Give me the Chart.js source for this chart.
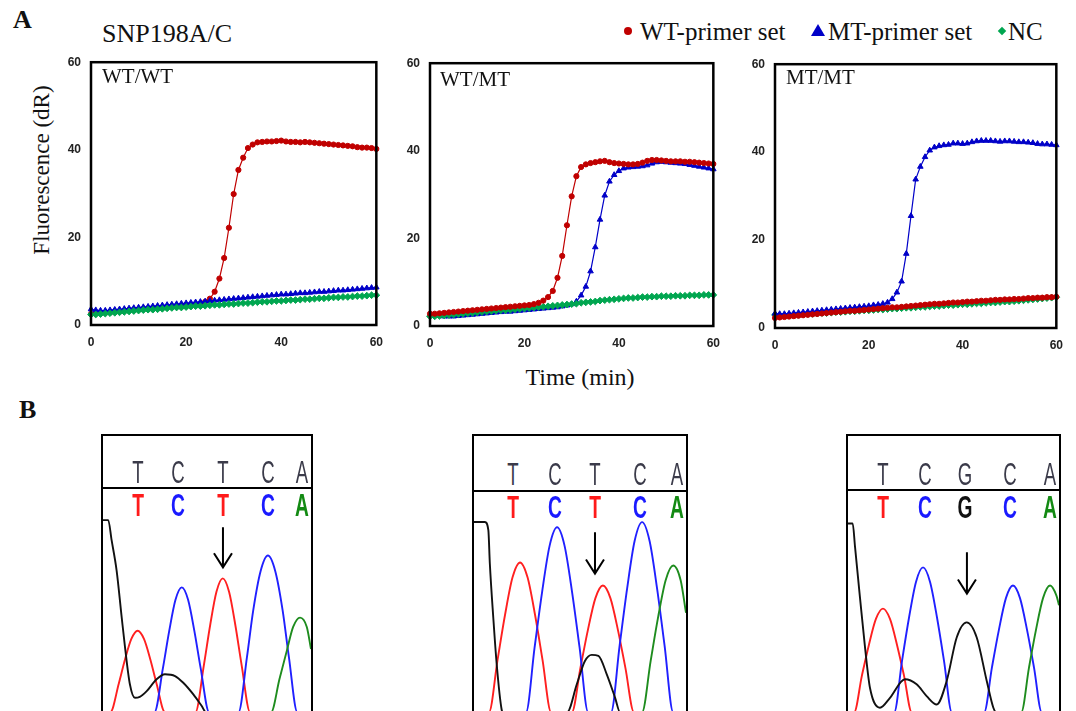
<!DOCTYPE html>
<html>
<head>
<meta charset="utf-8">
<script src="https://cdn.jsdelivr.net/npm/chart.js@4.4.1/dist/chart.umd.min.js"></script>
<style>
body { margin:0; background:#fff; width:1076px; height:711px; overflow:hidden; position:relative; font-family:'Liberation Serif','Times New Roman',serif; color:#111; }
.abs { position:absolute; line-height:1; white-space:nowrap; }
.c { transform:translate(-50%,-50%); }
.l { transform:translate(0,-50%); }
canvas { position:absolute; }
.box { position:absolute; border:2px solid #000; box-sizing:border-box; height:300px; }
.sep { position:absolute; height:2px; background:#000; }
.up { font-family:'Liberation Sans',Arial,sans-serif; font-size:31px; color:#3b3b4a; transform:translate(-50%,-50%) scaleX(.6); }
.lo { font-family:'Liberation Sans',Arial,sans-serif; font-weight:bold; font-size:31px; transform:translate(-50%,-50%) scaleX(.62); }
</style>
</head>
<body>

<div class="abs l" style="left:13px;top:20px;font-size:26px;font-weight:bold">A</div>
<div class="abs l" style="left:19px;top:410px;font-size:26px;font-weight:bold">B</div>
<div class="abs l" style="left:102px;top:34px;font-size:26px">SNP198A/C</div>

<!-- legend -->
<div class="abs" style="left:624px;top:27px;width:8px;height:8px;border-radius:50%;background:#c00000"></div>
<div class="abs l" style="left:640px;top:31px;font-size:25px">WT-primer set</div>
<div class="abs" style="left:811px;top:24px;width:0;height:0;border-left:7.5px solid transparent;border-right:7.5px solid transparent;border-bottom:12px solid #0000c8"></div>
<div class="abs l" style="left:828px;top:31px;font-size:25px">MT-primer set</div>
<div class="abs" style="left:999px;top:28px;width:6px;height:6px;background:#00a650;transform:rotate(45deg)"></div>
<div class="abs l" style="left:1008px;top:31px;font-size:25px">NC</div>

<div class="abs c" style="left:41px;top:170px;font-size:23px;transform:translate(-50%,-50%) rotate(-90deg)">Fluorescence (dR)</div>
<div class="abs c" style="left:580px;top:377px;font-size:24px">Time (min)</div>

<canvas id="a1" width="342" height="310" style="left:51px;top:45px"></canvas>
<canvas id="a2" width="340" height="310" style="left:390px;top:46px"></canvas>
<canvas id="a3" width="338" height="311" style="left:735px;top:47px"></canvas>

<div class="abs l" style="left:102px;top:76px;font-size:21px">WT/WT</div>
<div class="abs l" style="left:440px;top:79px;font-size:21px">WT/MT</div>
<div class="abs l" style="left:786px;top:77px;font-size:21px">MT/MT</div>

<div class="box" style="left:101px;top:434px;width:212px"></div>
<div class="sep" style="left:101px;top:487px;width:212px"></div>
<div class="box" style="left:472px;top:434px;width:216px"></div>
<div class="sep" style="left:472px;top:490px;width:216px"></div>
<div class="box" style="left:846px;top:434px;width:215px"></div>
<div class="sep" style="left:846px;top:489px;width:215px"></div>

<canvas id="b1" width="208" height="222" style="left:103px;top:489px"></canvas>
<canvas id="b2" width="212" height="219" style="left:474px;top:492px"></canvas>
<canvas id="b3" width="211" height="220" style="left:848px;top:491px"></canvas>

<script>
// --- PANEL A: real-time amplification, 1 reading per minute ---
const MINUTES = [0,1,2,3,4,5,6,7,8,9,10,11,12,13,14,15,16,17,18,19,20,21,22,23,24,25,26,27,28,29,30,
  31,32,33,34,35,36,37,38,39,40,41,42,43,44,45,46,47,48,49,50,51,52,53,54,55,56,57,58,59,60];
const TIME_TICKS = [0, 20, 40, 60];
const FLUO_TICKS = [0, 20, 40, 60];

// WT/WT sample
const WTWT_WT = [2.5,2.6,2.7,2.8,2.9,3.0,3.1,3.2,3.3,3.4,3.5,3.6,3.7,3.7,3.8,3.9,4.0,4.1,4.2,4.2,4.3,4.4,4.5,4.8,5.3,
  6.0,7.6,10.6,15.3,22.2,29.9,35.4,38.2,40.4,41.2,41.7,41.8,41.9,41.9,42.0,42.1,41.9,41.8,41.8,41.7,41.8,
  41.7,41.6,41.5,41.4,41.3,41.2,41.1,41.0,40.9,40.8,40.6,40.5,40.5,40.4,40.2];
const WTWT_MT = [3.6,3.4,3.3,3.3,3.4,3.5,3.6,3.7,3.8,3.9,4.0,4.1,4.2,4.3,4.4,4.5,4.6,4.7,4.8,4.9,5.0,5.1,5.2,5.3,5.4,
  5.5,5.6,5.7,5.8,5.9,6.0,6.1,6.2,6.3,6.4,6.5,6.6,6.7,6.8,6.9,7.0,7.0,7.1,7.2,7.3,7.3,7.4,7.5,7.6,7.6,
  7.7,7.8,7.9,7.9,8.0,8.1,8.2,8.3,8.4,8.5,8.6];
const WTWT_NC = [2.4,2.4,2.5,2.6,2.7,2.8,2.9,3.0,3.1,3.2,3.3,3.4,3.5,3.5,3.6,3.7,3.8,3.9,4.0,4.0,4.1,4.2,4.3,4.3,4.4,
  4.5,4.6,4.6,4.7,4.8,4.8,4.9,5.0,5.0,5.1,5.2,5.3,5.3,5.4,5.5,5.5,5.6,5.7,5.7,5.8,5.9,5.9,6.0,6.1,6.1,
  6.2,6.3,6.3,6.4,6.4,6.5,6.6,6.6,6.7,6.8,6.8];

// WT/MT sample
const WTMT_WT = [2.8,2.8,2.9,3.0,3.1,3.2,3.3,3.4,3.5,3.6,3.7,3.8,3.9,4.0,4.1,4.2,4.3,4.4,4.5,4.6,4.7,4.8,5.0,5.3,5.8,
  6.6,8.0,11.0,16.0,23.0,29.6,34.2,36.3,36.9,37.2,37.4,37.6,37.7,37.4,37.2,37.1,37.0,36.9,36.9,37.0,37.3,
  37.7,37.9,37.9,37.8,37.7,37.6,37.6,37.6,37.5,37.5,37.4,37.3,37.2,37.1,37.0];
const WTMT_MT = [2.6,2.4,2.3,2.2,2.2,2.2,2.3,2.4,2.5,2.6,2.7,2.8,2.9,3.0,3.1,3.2,3.3,3.3,3.4,3.5,3.6,3.7,3.8,3.9,4.0,
  4.1,4.2,4.3,4.5,4.7,5.0,5.6,7.0,9.0,12.5,18.0,24.3,29.8,33.0,34.5,35.4,36.0,36.2,36.3,36.4,36.5,
  36.7,37.1,37.4,37.5,37.4,37.3,37.2,37.1,37.0,36.8,36.6,36.4,36.2,36.0,35.8];
const WTMT_NC = [2.2,2.2,2.3,2.4,2.5,2.6,2.7,2.8,2.9,3.0,3.1,3.2,3.3,3.4,3.5,3.6,3.6,3.7,3.8,3.9,4.0,4.1,4.2,4.3,4.4,
  4.5,4.6,4.7,4.8,4.9,5.0,5.1,5.3,5.4,5.5,5.6,5.8,5.9,6.0,6.1,6.2,6.3,6.4,6.4,6.5,6.6,6.6,6.7,6.7,6.8,
  6.8,6.8,6.9,6.9,6.9,7.0,7.0,7.0,7.1,7.1,7.1];

// MT/MT sample
const MTMT_WT = [2.3,2.4,2.5,2.6,2.7,2.8,2.9,3.0,3.1,3.2,3.3,3.4,3.5,3.6,3.7,3.8,3.9,3.9,4.0,4.1,4.2,4.3,4.4,4.5,4.6,
  4.7,4.7,4.8,4.9,5.0,5.1,5.2,5.3,5.4,5.5,5.5,5.6,5.7,5.8,5.8,5.9,6.0,6.0,6.1,6.2,6.2,6.3,6.4,6.4,6.5,
  6.5,6.6,6.6,6.7,6.8,6.8,6.9,6.9,7.0,7.0,7.1];
const MTMT_MT = [3.3,3.2,3.2,3.3,3.4,3.5,3.6,3.7,3.8,3.9,4.0,4.1,4.2,4.3,4.4,4.5,4.6,4.7,4.8,4.9,5.0,5.2,5.3,5.5,5.8,
  6.6,8.1,10.6,16.9,25.5,33.8,36.7,38.9,40.4,41.1,41.4,41.6,41.7,42.0,42.0,41.9,42.0,42.3,42.5,42.6,42.6,
  42.6,42.5,42.4,42.5,42.5,42.4,42.3,42.3,42.2,42.1,41.9,41.8,41.8,41.7,41.6];
const MTMT_NC = [3.0,2.9,2.9,2.9,3.0,3.0,3.1,3.2,3.2,3.3,3.4,3.4,3.5,3.6,3.6,3.7,3.8,3.8,3.9,4.0,4.0,4.1,4.2,4.2,4.3,
  4.4,4.4,4.5,4.6,4.6,4.7,4.8,4.8,4.9,5.0,5.0,5.1,5.2,5.2,5.3,5.4,5.4,5.5,5.6,5.6,5.7,5.8,5.8,5.9,6.0,
  6.0,6.1,6.2,6.3,6.4,6.5,6.6,6.7,6.8,6.9,7.0];

// --- PANEL B: sequencing traces, [scan position, signal] ---
const BASES_1 = ['T','C','T','C','A'];
const BASES_2 = ['T','C','T','C','A'];
const BASES_3 = ['T','C','G','C','A'];

const TRACE1_BLACK = [[0.5,100.5],[3,100.5],[4.6,90],[7,74],[9.4,49.6],[11,33.8],[13.3,14.6],[15.7,7.5],[18,8],[21.3,11],
  [26,17.2],[30,19.8],[34.8,18.9],[38.7,15.4],[43.5,9.3],[47.5,3.2],[49.5,0],[99.5,0]];
const TRACE1_RED = [[0.5,0],[4,0],[8,14.9],[11,27.7],[14,38.3],[17,42.6],[20,38.3],[23,27.7],[26,14.9],[30,0],
  [44.5,0],[48.5,24.5],[51.5,45.5],[54.5,63],[57.5,70],[60.5,63],[63.5,45.5],[66.5,24.5],[70.5,0],[99.5,0]];
const TRACE1_BLUE = [[0.5,0],[25,0],[29,22.9],[32,42.4],[35,58.8],[38,65.3],[41,58.8],[44,42.4],[47,22.9],[51,0],
  [65,0],[69,28.7],[72,53.3],[75.5,73.8],[79,82],[82.5,73.8],[86,53.3],[89,28.7],[93,0],[99.5,0]];
const TRACE1_GREEN = [[0.5,0],[80.5,0],[84.5,17.3],[88,32.2],[91,44.6],[94.3,49.5],[97.5,44.6],[99.5,33]];

const TRACE2_BLACK = [[0.5,99.6],[5.6,99.6],[7.2,95.3],[7.9,77.7],[9.5,49.6],[11.1,25.1],[13.4,1.4],[14,0],[44,0],
  [48.5,14.6],[52.3,26.8],[55.5,30],[58.6,29.5],[62.5,19.8],[66.4,7.5],[68.7,0],[99.5,0]];
const TRACE2_RED = [[0.5,0],[7.5,0],[11.5,27.4],[15,51],[18.5,70.6],[22,78.4],[25.5,70.6],[29,51],[32.5,27.4],[36.5,0],
  [46.2,0],[50.2,23.2],[53.7,43.1],[57.2,59.7],[60.7,66.3],[64.2,59.7],[67.7,43.1],[71.2,23.2],[75.2,0],[99.5,0]];
const TRACE2_BLUE = [[0.5,0],[24.8,0],[28.8,33.9],[32.3,62.9],[35.8,87.1],[39.3,96.8],[42.8,87.1],[46.3,62.9],[49.8,33.9],[53.8,0],
  [64.5,0],[68.5,34.8],[72,64.7],[75.5,89.6],[79,99.5],[82.5,89.6],[86,64.7],[89.5,34.8],[93.5,0],[99.5,0]];
const TRACE2_GREEN = [[0.5,0],[79,0],[83,26.9],[86.5,49.9],[90,69.1],[93.5,76.8],[97,69.1],[99.5,52]];

const TRACE3_BLACK = [[0.5,98.8],[2.7,98.8],[3.8,86.5],[6.1,60.2],[8.5,33.8],[10.8,12.8],[15.5,2.3],[20.2,7.5],[27.2,17.2],
  [32.7,14.6],[37.4,8.4],[42.1,4],[46.8,16.3],[51.5,39.1],[56.2,47],[60.9,39.1],[65.6,16.3],[68.7,2.3],[70,0],[99.5,0]];
const TRACE3_RED = [[0.5,0],[3.4,0],[7,19],[10.3,35.2],[13.6,48.8],[16.9,54.2],[20.2,48.8],[23.5,35.2],[26.8,19],[30.4,0],[99.5,0]];
const TRACE3_BLUE = [[0.5,0],[22.2,0],[25.8,26.5],[29.1,49.3],[32.4,68.2],[35.7,75.8],[39,68.2],[42.3,49.3],[45.6,26.5],[49.2,0],
  [64.4,0],[68,23.2],[71.3,43.1],[74.6,59.7],[77.9,66.3],[81.2,59.7],[84.5,43.1],[87.8,23.2],[91.4,0],[99.5,0]];
const TRACE3_GREEN = [[0.5,0],[81.8,0],[85.4,23.2],[88.7,43.1],[92,59.7],[95.3,66.3],[98.3,61],[99.5,56]];

// SNP arrow: [scan position, signal at tail, signal at head]
const SNP_ARROW_1 = [57.6, 96.8, 75.8];
const SNP_ARROW_2 = [57, 94.2, 72.6];
const SNP_ARROW_3 = [56.3, 83.7, 62.1];

const RED = '#c00000', BLUE = '#0000c8', GREEN = '#00a650';
const TICK_FONT = { family: 'Liberation Sans', weight: 'bold', size: 12 };

// box round the plot area
const framePlugin = {
  id: 'frame',
  afterDatasetsDraw(chart) {
    const a = chart.chartArea, ctx = chart.ctx;
    ctx.save();
    ctx.lineWidth = 2.5;
    ctx.strokeStyle = '#000';
    ctx.strokeRect(a.left, a.top, a.right - a.left, a.bottom - a.top);
    ctx.restore();
  }
};

function seriesSet(values, color, marker, radius, order) {
  return {
    data: MINUTES.map((m, i) => ({ x: m, y: values[i] })),
    borderColor: color, backgroundColor: color,
    pointBackgroundColor: color, pointBorderColor: color,
    pointStyle: marker, pointRadius: radius, pointBorderWidth: 1,
    borderWidth: 1.2, tension: 0, clip: false, order: order
  };
}

function amplificationChart(id, wt, mt, nc, orders) {
  new Chart(document.getElementById(id), {
    type: 'line',
    data: { datasets: [
      seriesSet(wt, RED, 'circle', 2.6, orders[0]),
      seriesSet(mt, BLUE, 'triangle', 3.2, orders[1]),
      seriesSet(nc, GREEN, 'rectRot', 3.4, orders[2])
    ] },
    options: {
      responsive: false, animation: false, devicePixelRatio: 1, events: [],
      layout: { padding: { top: 10, right: 12, left: 0, bottom: 0 } },
      plugins: { legend: { display: false }, tooltip: { enabled: false } },
      scales: {
        x: {
          type: 'linear', min: TIME_TICKS[0], max: TIME_TICKS[TIME_TICKS.length - 1],
          grid: { display: false, drawTicks: false }, border: { display: false },
          afterBuildTicks: s => { s.ticks = TIME_TICKS.map(v => ({ value: v })); },
          ticks: { padding: 10, maxRotation: 0, color: '#222', font: TICK_FONT },
          afterFit: s => { s.height = 30; }
        },
        y: {
          min: FLUO_TICKS[0], max: FLUO_TICKS[FLUO_TICKS.length - 1],
          grid: { display: false, drawTicks: false }, border: { display: false },
          afterBuildTicks: s => { s.ticks = FLUO_TICKS.map(v => ({ value: v })); },
          ticks: { padding: 10, color: '#222', font: TICK_FONT },
          afterFit: s => { s.width = 40; }
        }
      }
    },
    plugins: [framePlugin]
  });
}

amplificationChart('a1', WTWT_WT, WTWT_MT, WTWT_NC, [3, 2, 1]);
amplificationChart('a2', WTMT_WT, WTMT_MT, WTMT_NC, [1, 3, 2]);
amplificationChart('a3', MTMT_WT, MTMT_MT, MTMT_NC, [1, 2, 3]);

// --- chromatograms ---
const arrowPlugin = {
  id: 'snpArrow',
  afterDatasetsDraw(chart, args, opts) {
    const a = opts.arrow;
    if (!a) return;
    const x = chart.scales.x.getPixelForValue(a[0]);
    const y0 = chart.scales.y.getPixelForValue(a[1]);
    const y1 = chart.scales.y.getPixelForValue(a[2]);
    const ctx = chart.ctx;
    ctx.save();
    ctx.strokeStyle = '#000';
    ctx.lineWidth = 2;
    ctx.beginPath();
    ctx.moveTo(x, y0); ctx.lineTo(x, y1);
    ctx.moveTo(x - 9, y1 - 14); ctx.lineTo(x, y1); ctx.lineTo(x + 9, y1 - 14);
    ctx.stroke();
    ctx.restore();
  }
};

function traceChart(id, traces, ymax, arrow) {
  new Chart(document.getElementById(id), {
    type: 'line',
    data: { datasets: traces.map(t => ({
      data: t[0].map(p => ({ x: p[0], y: p[1] })),
      borderColor: t[1], borderWidth: 1.9, pointRadius: 0,
      cubicInterpolationMode: 'monotone', fill: false
    })) },
    options: {
      responsive: false, animation: false, devicePixelRatio: 1, events: [],
      layout: { padding: 0 },
      plugins: { legend: { display: false }, tooltip: { enabled: false }, snpArrow: { arrow: arrow } },
      scales: {
        x: { type: 'linear', display: false, min: 0.5, max: 99.5 },
        y: { display: false, min: 0.6, max: ymax }
      }
    },
    plugins: [arrowPlugin]
  });
}

traceChart('b1', [[TRACE1_BLACK, '#111'], [TRACE1_GREEN, '#1e8c1e'], [TRACE1_BLUE, '#2020ff'], [TRACE1_RED, '#ff2020']], 116.8, SNP_ARROW_1);
traceChart('b2', [[TRACE2_BLACK, '#111'], [TRACE2_GREEN, '#1e8c1e'], [TRACE2_BLUE, '#2020ff'], [TRACE2_RED, '#ff2020']], 115.3, SNP_ARROW_2);
traceChart('b3', [[TRACE3_BLACK, '#111'], [TRACE3_GREEN, '#1e8c1e'], [TRACE3_BLUE, '#2020ff'], [TRACE3_RED, '#ff2020']], 115.8, SNP_ARROW_3);

// base calls above each trace
const BASE_COLOR = { T: '#ff1a1a', C: '#1a1aff', A: '#138a13', G: '#111' };
function placeBases(bases, xs, yUp, yLo) {
  bases.forEach((b, i) => {
    const up = document.createElement('div');
    up.className = 'abs up';
    up.style.left = xs[i] + 'px'; up.style.top = yUp + 'px';
    up.textContent = b;
    document.body.appendChild(up);
    const lo = document.createElement('div');
    lo.className = 'abs lo';
    lo.style.left = xs[i] + 'px'; lo.style.top = yLo + 'px';
    lo.style.color = BASE_COLOR[b];
    lo.textContent = b;
    document.body.appendChild(lo);
  });
}
placeBases(BASES_1, [138, 178, 223, 268, 302], 472, 505);
placeBases(BASES_2, [513, 555, 595, 640, 677], 474, 507);
placeBases(BASES_3, [883, 925, 965, 1010, 1050], 474, 507);
</script>
</body>
</html>
